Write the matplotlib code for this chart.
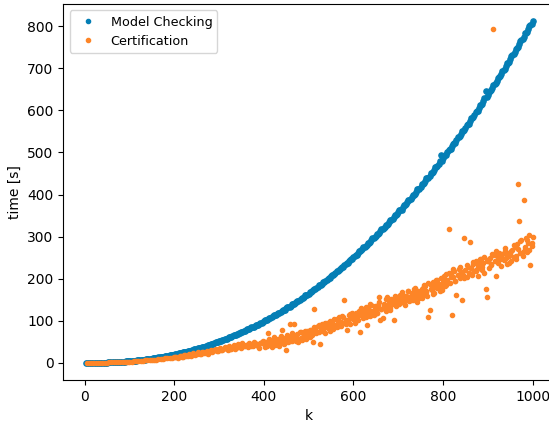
import numpy as np
import matplotlib
matplotlib.use("Agg")
import matplotlib.pyplot as plt

# model checking time, one reading every 5 steps of k (5 .. 1000)
k_model = np.arange(5, 1001, 5)
t_model = [
    0.0, 0.0, 0.1, 0.1, 0.2, 0.3, 0.4, 0.5, 0.7, 0.8,
    1.0, 1.3, 1.5, 1.8, 2.1, 2.4, 2.8, 3.2, 3.6, 4.1,
    4.6, 5.1, 5.6, 6.2, 6.8, 7.4, 8.1, 8.8, 9.6, 10.3,
    11.2, 12.0, 12.9, 13.8, 14.8, 15.7, 16.8, 17.8, 18.9, 20.0,
    21.2, 22.4, 23.7, 25.0, 26.3, 27.6, 29.1, 30.5, 32.0, 33.5,
    35.1, 36.6, 38.3, 40.0, 41.7, 43.5, 45.3, 47.1, 49.0, 50.9,
    52.9, 54.9, 57.0, 59.1, 61.2, 63.4, 65.7, 67.9, 70.3, 72.6,
    75.0, 77.5, 80.0, 82.5, 85.1, 87.7, 90.4, 93.1, 95.9, 98.7,
    101.6, 104.5, 107.4, 110.4, 113.5, 116.6, 119.7, 122.9, 126.1, 129.4,
    132.8, 136.1, 139.6, 143.0, 146.6, 150.1, 153.8, 157.4, 161.1, 164.9,
    168.7, 172.6, 176.5, 180.5, 184.5, 188.5, 192.7, 196.8, 201.0, 205.3,
    209.6, 214.0, 218.4, 222.9, 227.4, 232.0, 236.6, 241.3, 246.0, 250.8,
    255.6, 260.5, 265.5, 270.4, 275.5, 280.6, 285.7, 290.9, 296.2, 301.5,
    306.9, 312.3, 317.7, 323.2, 328.8, 334.5, 340.2, 345.9, 351.7, 357.5,
    363.4, 369.4, 375.4, 381.4, 387.6, 393.7, 400.0, 406.2, 412.6, 419.0,
    425.4, 431.9, 438.5, 445.1, 451.8, 458.5, 465.3, 472.2, 495.0, 486.0,
    493.1, 500.1, 507.3, 514.4, 521.7, 529.0, 536.4, 543.8, 551.3, 558.8,
    566.4, 574.0, 581.7, 589.5, 597.3, 605.2, 613.1, 621.1, 646.0, 637.3,
    645.5, 653.7, 662.0, 670.3, 678.7, 687.2, 695.7, 704.3, 713.0, 721.6,
    730.4, 739.2, 748.1, 757.0, 766.0, 775.1, 784.3, 793.5, 802.7, 812.0,
]
# in-between readings (2.5, 7.5, ... 997.5), they give the band its width
k_model_mid = np.arange(2.5, 1000, 5)
t_model_mid = [
    0.0, 0.0, 0.1, 0.1, 0.2, 0.2, 0.4, 0.4, 0.6, 0.7,
    1.0, 1.1, 1.5, 1.6, 2.0, 2.2, 2.7, 2.9, 3.5, 3.8,
    4.5, 4.8, 5.5, 5.8, 6.6, 7.0, 7.9, 8.3, 9.4, 9.8,
    11.0, 11.4, 12.7, 13.1, 14.6, 15.0, 16.6, 17.0, 18.7, 19.1,
    21.0, 21.4, 23.4, 23.9, 26.0, 26.5, 28.7, 29.4, 31.6, 32.3,
    34.7, 35.4, 37.9, 38.7, 41.3, 42.1, 44.9, 45.7, 48.6, 49.4,
    52.5, 53.3, 56.5, 57.4, 60.8, 61.6, 65.2, 66.1, 69.8, 70.7,
    74.6, 75.5, 79.5, 80.5, 84.6, 85.6, 89.9, 90.9, 95.3, 96.5,
    101.0, 102.2, 106.8, 108.1, 112.8, 114.2, 119.0, 120.4, 125.4, 126.9,
    132.0, 133.5, 138.8, 140.4, 145.7, 147.4, 152.9, 154.7, 160.2, 162.0,
    168.3, 169.7, 176.0, 177.5, 184.0, 185.5, 192.0, 193.8, 200.4, 202.2,
    208.9, 210.8, 217.6, 219.6, 226.6, 228.6, 235.8, 237.8, 245.2, 247.3,
    255.0, 257.2, 264.9, 267.1, 275.0, 277.3, 285.1, 287.5, 295.6, 298.0,
    306.3, 308.7, 317.2, 319.6, 328.3, 330.8, 339.7, 342.3, 351.4, 354.0,
    363.5, 364.4, 375.4, 376.4, 387.5, 388.7, 399.9, 401.1, 412.4, 413.8,
    425.2, 426.7, 438.2, 439.8, 451.5, 453.2, 464.9, 466.8, 478.7, 480.6,
    492.6, 494.6, 506.7, 508.9, 521.1, 523.4, 535.7, 538.1, 550.6, 553.1,
    565.6, 568.2, 580.9, 583.6, 596.4, 599.3, 612.2, 615.1, 628.2, 631.3,
    644.4, 647.6, 660.9, 664.2, 677.5, 681.0, 694.5, 698.0, 711.7, 715.3,
    729.0, 732.8, 746.7, 750.6, 764.5, 768.6, 782.7, 786.9, 801.1, 805.4,
]

# certification time: every 5 steps up to 395, then every 2.5 steps
k_cert_low = np.arange(5, 400, 5)
t_cert_low = [
    0.1, 0.2, 0.2, 0.3, 0.4, 0.5, 0.5, 0.6, 0.8, 0.9,
    1.0, 1.2, 1.3, 1.5, 1.7, 1.9, 2.3, 2.4, 2.9, 3.1,
    3.3, 3.9, 4.2, 4.4, 5.1, 5.3, 5.9, 6.6, 6.5, 7.4,
    7.9, 8.1, 9.2, 9.0, 10.3, 10.9, 10.6, 12.2, 12.0, 13.1,
    14.5, 13.8, 16.0, 15.2, 17.9, 16.8, 19.6, 18.7, 21.5, 20.2,
    23.8, 22.1, 25.6, 24.0, 21.9, 27.8, 26.0, 30.5, 28.1, 33.4,
    29.7, 31.9, 35.8, 30.6, 34.2, 38.0, 33.1, 36.7, 41.2, 35.5,
    39.4, 43.6, 38.2, 44.9, 40.8, 47.3, 42.0, 36.0, 49.5,
]
k_cert_high = np.arange(400, 1000.1, 2.5)
t_cert_high = [
    46, 38, 50, 41, 70, 44, 53, 39, 47, 55, 43, 51, 45, 57, 41, 49, 78, 54, 46, 60,
    30, 56, 49, 93, 62, 51, 58, 93, 64, 52, 69, 57, 73, 60, 55, 71, 63, 76, 58, 67,
    72, 61, 78, 66, 49, 129, 81, 70, 87, 74, 46, 83, 92, 77, 86, 71, 95, 82, 90, 76,
    88, 97, 81, 104, 91, 85, 99, 108, 93, 87, 112, 96, 149, 103, 79, 98, 115, 92, 106, 119,
    105, 96, 118, 110, 101, 124, 73, 113, 128, 107, 121, 134, 91, 117, 126, 111, 138, 123, 115, 132,
    127, 118, 138, 156, 103, 129, 106, 141, 133, 124, 157, 137, 146, 130, 152, 139, 101, 148, 135, 156,
    149, 140, 162, 168, 145, 155, 137, 160, 151, 171, 146, 158, 166, 149, 175, 157, 163, 144, 170, 159,
    168, 155, 177, 162, 183, 171, 158, 110, 125, 186, 174, 192, 166, 181, 196, 177, 188, 170, 201, 184,
    193, 207, 182, 211, 198, 317, 189, 214, 115, 203, 219, 195, 162, 208, 224, 201, 216, 149, 210, 296,
    221, 204, 229, 213, 288, 226, 209, 235, 218, 241, 224, 207, 238, 229, 246, 220, 237, 251, 176, 156,
    241, 226, 250, 234, 258, 793, 243, 206, 255, 238, 262, 247, 231, 259, 244, 266, 250, 236, 261, 253,
    258, 243, 269, 251, 276, 247, 283, 425, 337, 262, 291, 255, 387, 270, 297, 264, 286, 304, 232, 278,
    298,
]
# second set of certification runs (202.5 .. 997.5)
k_cert_extra = np.arange(202.5, 1000, 5)
t_cert_extra = [
    15.1, 12.6, 17.2, 14.0, 19.3, 15.8, 20.9, 17.5, 23.0, 19.4,
    25.1, 21.2, 26.7, 23.5, 29.3, 24.8, 31.0, 27.2, 33.6, 28.9,
    34.7, 30.1, 37.2, 32.4, 39.8, 34.1, 41.5, 36.3, 43.9, 37.0,
    46.2, 39.5, 42.8, 48.1, 41.3, 50.6, 44.0, 39.2, 47.9, 52.3,
    49, 42, 56, 47, 61, 44, 52, 63, 48, 58, 66, 53, 71, 57, 62, 50, 74, 60, 68, 77,
    79, 68, 85, 73, 90, 80, 76, 94, 86, 99, 83, 91, 104, 88, 97, 110, 93, 102, 116, 108,
    112, 103, 120, 131, 116, 109, 127, 140, 122, 135, 118, 145, 129, 138, 151, 134, 125, 147, 159, 142,
    153, 164, 142, 158, 172, 150, 166, 178, 161, 155, 175, 184, 168, 190, 176, 163, 186, 197, 180, 173,
    199, 186, 213, 204, 222, 194, 209, 228, 217, 201, 232, 214, 225, 240, 219, 233, 246, 227, 213, 242,
    248, 233, 256, 267, 241, 259, 249, 272, 257, 238, 265, 281, 254, 270, 289, 263, 276, 293, 268, 284,
]

k_mc = np.concatenate([k_model, k_model_mid])
t_mc = np.concatenate([t_model, t_model_mid])
k_cert = np.concatenate([k_cert_low, k_cert_high, k_cert_extra])
t_cert = np.concatenate([t_cert_low, t_cert_high, t_cert_extra])

fig = plt.figure(figsize=(5.49, 4.22), dpi=100)
ax = fig.add_axes([0.1153, 0.0995, 0.8956, 0.891])

ax.plot(k_mc, t_mc, '.', color='#047eb5', markersize=7.5, label='Model Checking')
ax.plot(k_cert, t_cert, '.', color='#fd8527', label='Certification')

ax.set_xlabel('k')
ax.set_ylabel('time [s]')
leg = ax.legend(loc='upper left', fontsize=9.2)
# keep both legend dots the same size
for h in leg.legend_handles:
    h.set_markersize(6)

fig.savefig('out.png', dpi=100)
